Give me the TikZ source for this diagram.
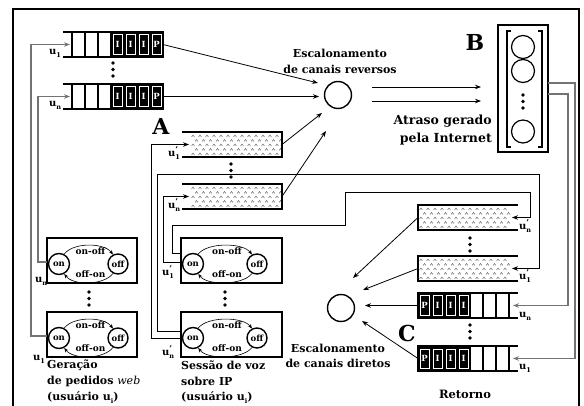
\documentclass[tikz,border=0pt]{standalone}
\usepackage{fontspec}
\setmainfont{DejaVu Serif}
\usetikzlibrary{arrows.meta}
\tikzset{
  conn/.style={line width=0.8pt, draw=black},
  webconn/.style={line width=1.1pt, draw=black!55},
  arr/.style={-{Stealth[length=6pt,width=4.5pt]}},
  smallarr/.style={-{Stealth[length=4.5pt,width=3.5pt]}},
  qline/.style={line width=1.8pt},
  cellline/.style={line width=1.1pt},
  caret/.style={line width=0.35pt, draw=black!75},
  qletter/.style={text=white, font=\bfseries\fontsize{8.5}{9}\selectfont, inner sep=0pt},
  lab/.style={font=\bfseries\fontsize{11}{12}\selectfont, inner sep=0pt},
  biglab/.style={font=\bfseries\fontsize{22}{24}\selectfont, inner sep=0pt},
  ulab/.style={font=\bfseries\fontsize{10}{10}\selectfont, inner sep=0pt},
  state/.style={circle, draw, line width=1.4pt, inner sep=0pt, minimum size=21pt, font=\bfseries\fontsize{8.5}{9}\selectfont},
  trans/.style={font=\bfseries\fontsize{9}{10}\selectfont, inner sep=0.5pt},
  smbox/.style={draw, line width=1.3pt},
  sched/.style={circle, draw, line width=1.4pt, minimum size=27pt, inner sep=0pt},
  bdot/.style={circle, fill=black, inner sep=0pt, minimum size=3.8pt},
  bcirc/.style={circle, draw, line width=1.2pt, minimum size=23pt, inner sep=0pt},
}
\newcommand{\uu}[1]{u\raisebox{-0.55ex}{\fontsize{6.5}{7}\selectfont #1}}
\newcommand{\uup}[1]{u\makebox[0pt][l]{\raisebox{0.8ex}{\fontsize{8}{8}\selectfont\textquoteright}}\raisebox{-0.55ex}{\fontsize{6.5}{7}\selectfont #1}}
\newcommand{\bcell}[2]{%
  \fill (#1,1) rectangle (#1+13,24);
  \draw[white,line width=0.6pt] (#1+1.8,2.8) rectangle (#1+11.2,22.2);
  \node[qletter] at (#1+6.5,12.5) {#2};}
\newcommand{\webrevq}[2]{\begin{scope}[shift={(#1,#2)}]
  \bcell{48}{I}\bcell{61}{I}\bcell{74}{I}\bcell{87}{P}
  \draw[cellline] (9,0)--(9,25) (22,0)--(22,25) (35,0)--(35,25) (48,0)--(48,25);
  \draw[qline] (0,0)--(100,0)--(100,25)--(0,25);
\end{scope}}
\newcommand{\webfwdq}[2]{\begin{scope}[shift={(#1,#2)}]
  \bcell{0}{P}\bcell{13}{I}\bcell{26}{I}\bcell{39}{I}
  \draw[cellline] (52,0)--(52,25) (65,0)--(65,25) (78,0)--(78,25) (91,0)--(91,25);
  \draw[qline] (100,0)--(0,0)--(0,25)--(100,25);
\end{scope}}
\newcommand{\carets}[1]{%
  \foreach \yy/\off in {4/0,8.5/3.5,13/0,17.5/3.5,22/0}{
    \foreach \c in {0,...,12}{
      \pgfmathsetmacro{\cx}{#1+\off+\c*7}
      \draw[caret] (\cx-1.4,\yy+1) -- (\cx,\yy-1) -- (\cx+1.4,\yy+1);
    }}}
\newcommand{\dotrevq}[2]{\begin{scope}[shift={(#1,#2)}]
  \carets{11}
  \draw[qline] (0,0)--(100,0)--(100,25)--(0,25);
\end{scope}}
\newcommand{\dotfwdq}[2]{\begin{scope}[shift={(#1,#2)}]
  \carets{3}
  \draw[qline] (100,0)--(0,0)--(0,25)--(100,25);
\end{scope}}
\newcommand{\smach}[5]{%
  \draw[smbox] (#2,#3) rectangle (#4,#3+45);
  \node[state] (#1on) at (#2+12,#3+26) {on};
  \node[state, minimum size=20pt] (#1off) at (#5,#3+26) {off};
  \draw[line width=0.6pt, smallarr] (#1on.62) .. controls +(9,-12) and +(-9,-12) .. (#1off.118);
  \draw[line width=0.6pt, smallarr] (#1off.242) .. controls +(-9,12) and +(9,12) .. (#1on.298);
  \node[trans] at ({(#2+12+#5)/2+2},#3+13.5) {on-off};
  \node[trans] at ({(#2+12+#5)/2+2},#3+36) {off-on};
}
\begin{document}
\begin{tikzpicture}[x=1pt,y=-1pt]
\useasboundingbox (0,0) rectangle (584,406);
% frame
\draw[line width=2pt] (13,406) -- (13,9) -- (579,9) -- (579,406);

% ---------- reverse web queues (top left)
\webrevq{63}{32}
\webrevq{63}{84}
\node[bdot] (d1a) at (113,63) {};
\node[bdot] (d1b) at (113,69.5) {};
\node[bdot] (d1c) at (113,76) {};
\node[ulab] (lu1) at (55,53) {\uu{1}};
\node[ulab] (lun) at (55,105) {\uu{n}};
\coordinate (qw1in) at (70,44.5);
\coordinate (qwnin) at (70,96.5);
\coordinate (qw1out) at (163,44.5);
\coordinate (qwnout) at (163,96.5);

% ---------- reverse voip queues (A)
\node[biglab] (A) at (161,126) {A};
\dotrevq{182}{132}
\dotrevq{182}{184}
\node[bdot] (d2a) at (231,164) {};
\node[bdot] (d2b) at (231,170.5) {};
\node[bdot] (d2c) at (231,177) {};
\node[ulab] (lv1) at (174,153) {\uup{1}};
\node[ulab] (lvn) at (174,205) {\uup{n}};
\coordinate (qd1in) at (189,144.5);
\coordinate (qdnin) at (189,196.5);
\coordinate (qd1out) at (282,144.5);
\coordinate (qdnout) at (282,196.5);

% ---------- reverse scheduler
\node[sched] (srev) at (338,95) {};
\node[lab] (srevt1) at (340,53) {Escalonamento};
\node[lab] (srevt2) at (340,69) {de canais reversos};
\coordinate (srevA) at (318,83);
\coordinate (srevB) at (319,96.5);
\coordinate (srevC) at (322,113);
\coordinate (srevD) at (326,131);
\draw[conn,arr] (qw1out) -- (srevA);
\draw[conn,arr] (qwnout) -- (srevB);
\draw[conn,arr] (qd1out) -- (srevC);
\draw[conn,arr] (qdnout) -- (srevD);

% ---------- internet delay (B)
\coordinate (so1) at (372,87);
\coordinate (so2) at (372,101);
\coordinate (bi1) at (481,87);
\coordinate (bi2) at (481,101);
\draw[conn,arr] (so1) -- (bi1);
\draw[conn,arr] (so2) -- (bi2);
\node[lab, font=\bfseries\fontsize{12.5}{14}\selectfont, anchor=east] (at1) at (492,121) {Atraso gerado};
\node[lab, font=\bfseries\fontsize{12.5}{14}\selectfont, anchor=east] (at2) at (492,139) {pela Internet};
\node[biglab] (Blab) at (475,42) {B};
\node[draw, line width=2.6pt, minimum width=50pt, minimum height=127pt, inner sep=0pt] (B) at (523,88.5) {};
\draw[line width=1.2pt] (511,31) -- (507,31) -- (507,147) -- (511,147);
\draw[line width=1.2pt] (538,31) -- (542,31) -- (542,147) -- (538,147);
\node[bcirc] (bc1) at (523,47) {};
\node[bcirc] (bc2) at (523,71) {};
\node[bcirc] (bc3) at (523,131.5) {};
\node[bdot] (d3a) at (523,95) {};
\node[bdot] (d3b) at (523,101.5) {};
\node[bdot] (d3c) at (523,108) {};
\coordinate (bo1) at (548,83);
\coordinate (bo2) at (548,94);

% ---------- forward queues
\dotfwdq{418}{205}
\dotfwdq{418}{256}
\webfwdq{418}{293}
\webfwdq{418}{346}
\node[bdot] (d4a) at (470,238) {};
\node[bdot] (d4b) at (470,244.5) {};
\node[bdot] (d4c) at (470,251) {};
\node[bdot] (d5a) at (470,325) {};
\node[bdot] (d5b) at (470,331.5) {};
\node[bdot] (d5c) at (470,338) {};
\node[biglab] (C) at (407,333) {C};
\node[ulab] (lfvn) at (525,226) {\uup{n}};
\node[ulab] (lfv1) at (525,276) {\uup{1}};
\node[ulab] (lfwn) at (525,316) {\uu{n}};
\node[ulab] (lfw1) at (525,368) {\uu{1}};
\coordinate (qfdnin) at (512,217.5);
\coordinate (qfd1in) at (512,268.5);
\coordinate (qcnin) at (513,305.5);
\coordinate (qc1in) at (513,358.5);
\coordinate (qfdnout) at (418,217.5);
\coordinate (qfd1out) at (418,268.5);
\coordinate (qcnout) at (418,305.5);
\coordinate (qc1out) at (418,358.5);

% ---------- forward scheduler
\node[sched] (sdir) at (341,308) {};
\node[lab] (sdirt1) at (338,348) {Escalonamento};
\node[lab] (sdirt2) at (338,363) {de canais diretos};
\coordinate (sdirA) at (353,278);
\coordinate (sdirB) at (363,290);
\coordinate (sdirC) at (365,305.5);
\coordinate (sdirD) at (362,321);
\draw[conn,arr] (qfdnout) -- (sdirA);
\draw[conn,arr] (qfd1out) -- (sdirB);
\draw[conn,arr] (qcnout) -- (sdirC);
\draw[conn,arr] (qc1out) -- (sdirD);
\node[lab, font=\bfseries\fontsize{11.5}{13}\selectfont] (ret) at (465,394) {Retorno};

% ---------- feedback from B to C
\draw[webconn,arr] (bo1) -- ++(27,0) |- (qc1in);
\draw[webconn,arr] (bo2) -- ++(20,0) |- (qcnin);

% ---------- web sources
\smach{wu}{47}{238}{137}{118}
\smach{wl}{47}{312}{137}{118}
\node[bdot] (d6a) at (89,292) {};
\node[bdot] (d6b) at (89,298.5) {};
\node[bdot] (d6c) at (89,305) {};
\node[ulab] (lwsn) at (41,281) {\uu{n}};
\node[ulab] (lws1) at (39,359) {\uu{1}};
\coordinate (wuport) at (47,262);
\coordinate (wlport) at (47,336);
\draw[webconn,arr] (wlport) -- ++(-16,0) |- (qw1in);
\draw[webconn,arr] (wuport) -- ++(-9,0) |- (qwnin);
\node[lab, anchor=west] (wt1) at (47,365) {Geração};
\node[lab, anchor=west] (wt2) at (47,381.5) {de pedidos {\mdseries\itshape web}};
\node[lab, anchor=west] (wt3) at (47,397.5) {(usuário \uu{i})};

% ---------- voip sources
\smach{vu}{181}{238}{282}{257}
\smach{vl}{181}{312}{282}{257}
\node[bdot] (d7a) at (225,292) {};
\node[bdot] (d7b) at (225,298.5) {};
\node[bdot] (d7c) at (225,305) {};
\node[ulab] (lvs1) at (168,272) {\uup{1}};
\node[ulab] (lvsn) at (168,352) {\uup{n}};
\coordinate (vuport1) at (181,253);
\coordinate (vuport2) at (181,262);
\coordinate (vlport1) at (181,331);
\coordinate (vlport2) at (181,338);
\draw[conn,arr] (vuport1) -- ++(-9,0) -- ++(0,-28) -- (345,225) -- (345,192) -- (530,192) |- (qfdnin);
\draw[conn,arr] (vuport2) -- ++(-18,0) |- (qdnin);
\draw[conn,arr] (vlport1) -- ++(-24,0) -- (157,174) -- (539,174) |- (qfd1in);
\draw[conn,arr] (vlport2) -- ++(-30,0) |- (qd1in);
\node[lab, anchor=west] (vt1) at (181,365) {Sessão de voz};
\node[lab, anchor=west] (vt2) at (181,381.5) {sobre IP};
\node[lab, anchor=west] (vt3) at (181,397.5) {(usuário \uu{i})};
\end{tikzpicture}
\end{document}
